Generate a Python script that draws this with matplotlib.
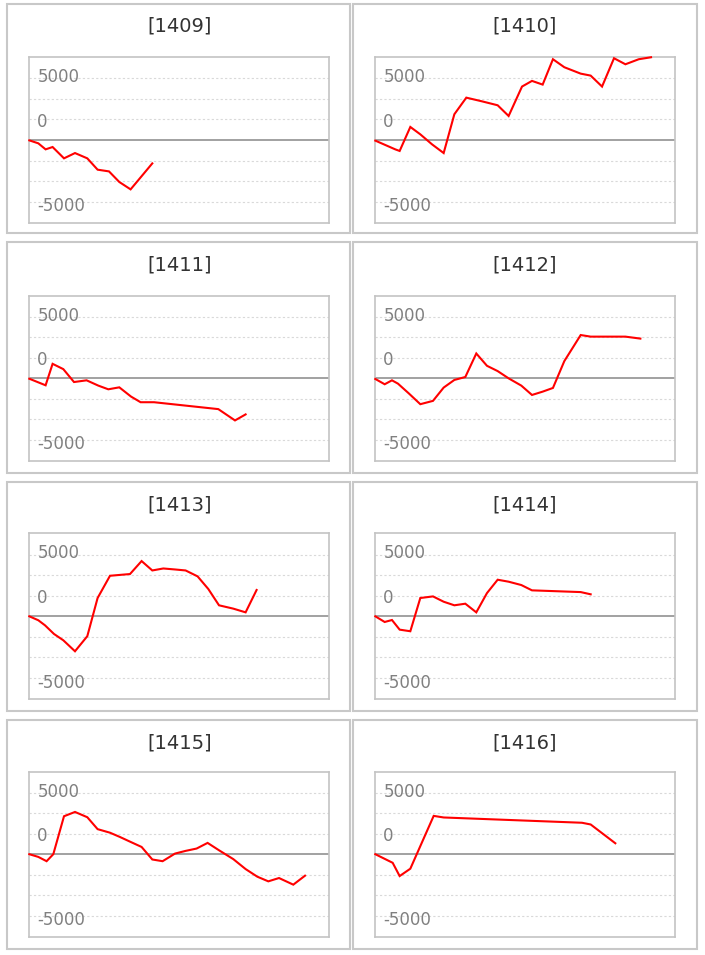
import matplotlib
matplotlib.use("Agg")
import matplotlib.pyplot as plt
from matplotlib.patches import Rectangle
from matplotlib.transforms import blended_transform_factory

# ---------------- data ----------------
titles = ["[1409]", "[1410]", "[1411]", "[1412]",
          "[1413]", "[1414]", "[1415]", "[1416]"]
tick_labels = ["5000", "0", "-5000"]

x_1409 = [0, 0.9, 1.63, 2.33, 3.47, 4.57, 5.8, 6.83, 7.97, 9.0, 10.13, 12.3]
y_1409 = [-30, -270, -760, -570, -1490, -1060, -1490, -2410, -2550, -3410, -4010, -1900]

x_1410 = [0, 2.0, 2.44, 3.51, 4.51, 5.68, 6.85, 7.92, 9.12, 10.69, 12.26, 13.36,
          14.7, 15.7, 16.77, 17.8, 18.94, 20.58, 21.58, 22.72, 23.92, 25.06, 26.4, 27.63]
y_1410 = [-50, -760, -890, 1060, 460, -350, -1060, 2090, 3440, 3140, 2820, 1950,
          4340, 4800, 4500, 6560, 5910, 5390, 5230, 4340, 6640, 6150, 6560, 6720]

x_1411 = [0, 1.63, 2.33, 3.4, 4.47, 5.73, 6.9, 7.9, 9.0, 10.17, 11.13, 12.47,
          18.9, 20.57, 21.63]
y_1411 = [-30, -565, 1180, 750, -300, -160, -590, -890, -730, -1480, -1940, -1940,
          -2500, -3420, -2930]

x_1412 = [0, 0.94, 1.67, 2.27, 3.34, 4.51, 5.78, 6.85, 7.92, 9.02, 10.12, 11.19,
          12.26, 13.36, 14.63, 15.7, 16.77, 17.8, 18.94, 20.58, 21.58, 25.06, 26.56]
y_1412 = [-50, -480, -160, -430, -1210, -2100, -1830, -750, -130, 110, 2020, 1020,
          590, 0, -590, -1350, -1080, -780, 1400, 3520, 3390, 3390, 3230]

x_1413 = [0, 0.9, 1.57, 2.47, 3.4, 4.57, 5.8, 6.83, 8.07, 10.07, 11.23, 12.3,
          13.4, 14.57, 15.63, 16.83, 17.9, 18.97, 20.4, 21.63, 22.73]
y_1413 = [0, -320, -730, -1430, -1940, -2830, -1610, 1480, 3280, 3420, 4470, 3710,
          3870, 3790, 3710, 3230, 2210, 890, 620, 320, 2130]

x_1414 = [0, 0.94, 1.67, 2.44, 3.51, 4.51, 5.78, 6.85, 7.92, 9.02, 10.12, 11.19,
          12.26, 13.36, 14.63, 15.7, 20.58, 21.58]
y_1414 = [0, -460, -300, -1080, -1210, 1480, 1610, 1180, 890, 1020, 320, 1880,
          2960, 2800, 2530, 2100, 1960, 1780]

x_1415 = [0, 0.9, 1.73, 2.4, 3.47, 4.57, 5.8, 6.83, 8.07, 9.07, 10.13, 11.23,
          12.3, 13.33, 14.57, 15.63, 16.73, 17.83, 18.97, 20.4, 21.63, 22.8,
          23.9, 24.97, 26.4, 27.57]
y_1415 = [0, -220, -570, 0, 3090, 3440, 3010, 2040, 1750, 1400, 1000, 590,
          -430, -570, 50, 270, 460, 920, 320, -400, -1210, -1830,
          -2210, -1940, -2480, -1750]

x_1416 = [0, 1.74, 2.44, 3.51, 5.85, 6.85, 20.71, 21.58, 24.05]
y_1416 = [0, -700, -1780, -1180, 3120, 2990, 2560, 2420, 890]

series_x = [x_1409, x_1410, x_1411, x_1412, x_1413, x_1414, x_1415, x_1416]
series_y = [y_1409, y_1410, y_1411, y_1412, y_1413, y_1414, y_1415, y_1416]

# ---------------- layout (pixels) ----------------
W, H, DPI = 705, 955, 100
fig = plt.figure(figsize=(W / DPI, H / DPI), dpi=DPI)
fig.patch.set_facecolor("white")

box_cols = [(7, 350), (353, 697)]
box_rows = [(4, 233), (242, 473), (482, 711), (720, 949)]
plot_cols = [(29.3, 329.3), (375.3, 674.7)]
plot_rows = [(57.3, 222.7), (295.7, 461.0), (533.3, 699.3), (771.7, 936.7)]
title_y = [26, 265, 505, 743]

step = 5000.0 / 3.0
ylim = 4.03 * step
label_pos = [3.06 * step, 0.88 * step, -3.22 * step]


def fx(px):
    return px / W


def fy(py):
    return 1 - py / H


for i in range(8):
    r, c = divmod(i, 2)
    bx0, bx1 = box_cols[c]
    by0, by1 = box_rows[r]
    fig.add_artist(Rectangle((fx(bx0), fy(by1)), fx(bx1 - bx0), (by1 - by0) / H,
                             transform=fig.transFigure, fill=False,
                             ec="#c8c8c8", lw=1.5))
    px0, px1 = plot_cols[c]
    py0, py1 = plot_rows[r]
    ax = fig.add_axes([fx(px0), fy(py1), fx(px1 - px0), (py1 - py0) / H])
    ax.set_xlim(0, 30)
    ax.set_ylim(-ylim, ylim)
    ax.set_xticks([])
    ax.set_yticks([])
    for sp in ax.spines.values():
        sp.set_color("#c4c4c4")
        sp.set_linewidth(1.2)
    for k in (1, 2, 3):
        for s in (1, -1):
            ax.axhline(s * k * step, color="#d9d9d9", lw=0.8, ls=(0, (2, 2)), zorder=1)
    ax.axhline(0, color="#888888", lw=1.1, zorder=2)
    ax.plot(series_x[i], series_y[i], color="#ff0000", lw=1.5, zorder=3,
            clip_on=False, solid_joinstyle="miter")
    tr = blended_transform_factory(ax.transAxes, ax.transData)
    for lab, pos in zip(tick_labels, label_pos):
        ax.text(8.0 / (px1 - px0), pos, lab, transform=tr, ha="left", va="center",
                fontsize=12, color="#808080", family="DejaVu Sans")
    fig.text(fx((px0 + px1) / 2), fy(title_y[r]), titles[i], ha="center",
             va="center", fontsize=14, color="#333333", family="DejaVu Sans")

fig.savefig("out.png", dpi=DPI, facecolor="white")
